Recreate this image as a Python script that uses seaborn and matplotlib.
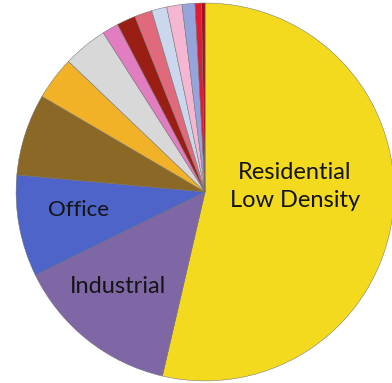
import matplotlib
matplotlib.use("Agg")
import matplotlib.pyplot as plt
import seaborn as sns

# ---- data ----
categories = ["Residential Low Density", "Industrial", "Office", "Commercial",
              "Retail", "Institutional", "Mixed Use", "Parking", "Hotel",
              "Utilities", "Recreation", "Residential High Density",
              "Transportation", "Other"]
shares = [53.6, 14.1, 8.7, 7.0, 3.7, 3.8, 1.4, 1.6, 1.5, 1.3, 1.3, 1.1, 0.55, 0.3]
shown_labels = {"Residential Low Density": "Residential\nLow Density",
                "Industrial": "Industrial",
                "Office": "Office"}
colors = ["#F4DA1E", "#7F67A6", "#4E64C8", "#8C6826", "#F2B228", "#D8D8D8",
          "#E27DC2", "#9A1E14", "#E06A7C", "#CAD7EC", "#F5B6D2", "#95A5DC",
          "#E31A30", "#A3101C"]

sns.set_theme(style="white")
plt.rcParams["font.family"] = ["Lato", "DejaVu Sans"]

fig = plt.figure(figsize=(3.92, 3.83), dpi=100)
ax = fig.add_axes([0, 0, 1, 1])
palette = sns.color_palette(colors)
wedges, _ = ax.pie(shares, colors=palette, startangle=90, counterclock=False,
                   radius=1.0,
                   wedgeprops=dict(edgecolor="#707070", linewidth=0.35))
ax.set_aspect("auto")
ax.set_xlim(-1.085, 0.989)
ax.set_ylim(-1.011, 1.016)
ax.axis("off")

label_pos = {"Residential Low Density": (0.475, 0.03),
             "Industrial": (-0.46, -0.50),
             "Office": (-0.67, -0.095)}
label_size = {"Residential Low Density": 17, "Industrial": 17, "Office": 16}
for cat, txt in shown_labels.items():
    x, y = label_pos[cat]
    ax.text(x, y, txt, ha="center", va="center", fontsize=label_size[cat],
            color="#141414", linespacing=1.4)

fig.savefig("out.png", dpi=100)
